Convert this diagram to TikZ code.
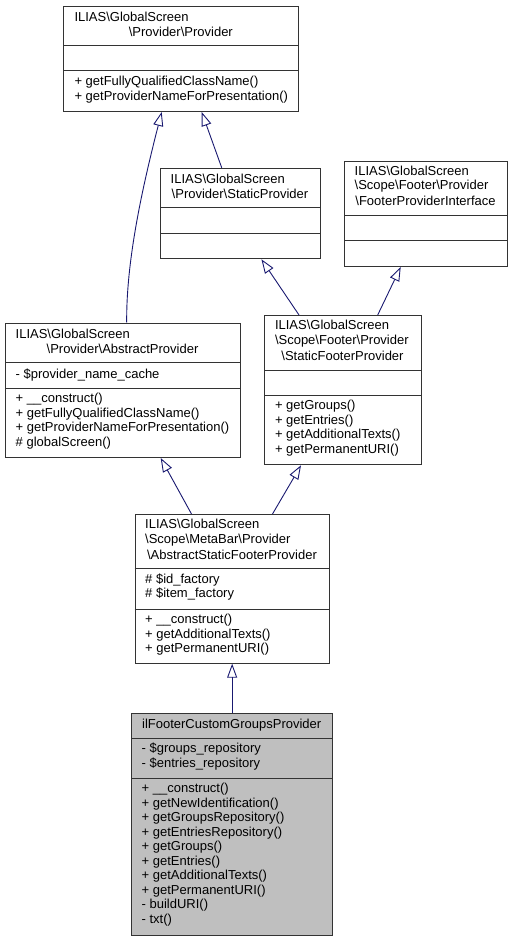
\documentclass[tikz,border=0pt]{standalone}
\usepackage{fontspec}
\setmainfont{Liberation Sans}
\usetikzlibrary{arrows.meta}
\definecolor{mblue}{RGB}{25,25,112}
\definecolor{boxgray}{RGB}{191,191,191}
\newcommand\fs{\fontsize{13}{14.5}\selectfont}
\newcommand\bs{\textbackslash}
\tikzset{
  cls/.style={draw=black!80, line width=1pt, fill=white, inner sep=0pt, anchor=north west},
  txt/.style={anchor=north west, inner sep=0pt, align=left, font=\fs, execute at begin node={\rule{0pt}{11pt}}},
  ctxt/.style={anchor=north, inner sep=0pt, align=center, font=\fs, execute at begin node={\rule{0pt}{11pt}}},
  sepline/.style={draw=black!80, line width=1pt},
  inh/.style={draw=mblue, line width=0.9pt, -{Triangle[open,length=14pt,width=10pt]}},
}
\begin{document}
\begin{tikzpicture}[x=1pt,y=-1pt]
\useasboundingbox (0,0) rectangle (512,941);

% Provider
\node[cls, minimum width=235pt, minimum height=105.3pt] (p) at (63.3,5.7) {};
\draw[sepline] (p.west |- 0,45.7) -- (p.east |- 0,45.7);
\draw[sepline] (p.west |- 0,71) -- (p.east |- 0,71);
\node[txt] (p-t1) at (74.3,10.7) {ILIAS\bs GlobalScreen};
\node[ctxt] (p-t2) at (180.8,25.2) {\bs Provider\bs Provider};
\node[txt] (p-m) at (74.3,76) {+ getFullyQualifiedClassName()\\+ getProviderNameForPresentation()};

% StaticProvider
\node[cls, minimum width=160pt, minimum height=90.6pt] (sp) at (160,167.7) {};
\draw[sepline] (sp.west |- 0,207.7) -- (sp.east |- 0,207.7);
\draw[sepline] (sp.west |- 0,233.3) -- (sp.east |- 0,233.3);
\node[txt] (sp-t1) at (170.5,172.7) {ILIAS\bs GlobalScreen};
\node[ctxt] (sp-t2) at (240,187.2) {\bs Provider\bs StaticProvider};

% FooterProviderInterface
\node[cls, minimum width=163pt, minimum height=105.3pt] (fpi) at (344,160.7) {};
\draw[sepline] (fpi.west |- 0,215.3) -- (fpi.east |- 0,215.3);
\draw[sepline] (fpi.west |- 0,240.3) -- (fpi.east |- 0,240.3);
\node[txt] (fpi-t1) at (354.5,165.7) {ILIAS\bs GlobalScreen\\\bs Scope\bs Footer\bs Provider};
\node[ctxt] (fpi-t2) at (425.5,194.7) {\bs FooterProviderInterface};

% AbstractProvider
\node[cls, minimum width=235pt, minimum height=134.3pt] (ap) at (5,322.7) {};
\draw[sepline] (ap.west |- 0,362.7) -- (ap.east |- 0,362.7);
\draw[sepline] (ap.west |- 0,388) -- (ap.east |- 0,388);
\node[txt] (ap-t1) at (15.5,327.7) {ILIAS\bs GlobalScreen};
\node[ctxt] (ap-t2) at (122.5,342.2) {\bs Provider\bs AbstractProvider};
\node[txt] (ap-a) at (15.5,367.7) {- \$provider\_name\_cache};
\node[txt] (ap-m) at (15.5,393) {+ \_\_construct()\\+ getFullyQualifiedClassName()\\+ getProviderNameForPresentation()\\\# globalScreen()};

% StaticFooterProvider
\node[cls, minimum width=156.4pt, minimum height=149.3pt] (sfp) at (264.3,315) {};
\draw[sepline] (sfp.west |- 0,370) -- (sfp.east |- 0,370);
\draw[sepline] (sfp.west |- 0,395.3) -- (sfp.east |- 0,395.3);
\node[txt] (sfp-t1) at (274.8,320) {ILIAS\bs GlobalScreen\\\bs Scope\bs Footer\bs Provider};
\node[ctxt] (sfp-t2) at (342.5,349) {\bs StaticFooterProvider};
\node[txt] (sfp-m) at (274.8,400.3) {+ getGroups()\\+ getEntries()\\+ getAdditionalTexts()\\+ getPermanentURI()};

% AbstractStaticFooterProvider
\node[cls, minimum width=194.6pt, minimum height=148.7pt] (asfp) at (134.7,514) {};
\draw[sepline] (asfp.west |- 0,568.3) -- (asfp.east |- 0,568.3);
\draw[sepline] (asfp.west |- 0,609) -- (asfp.east |- 0,609);
\node[txt] (asfp-t1) at (145,519) {ILIAS\bs GlobalScreen\\\bs Scope\bs MetaBar\bs Provider};
\node[ctxt] (asfp-t2) at (232,548) {\bs AbstractStaticFooterProvider};
\node[txt] (asfp-a) at (145,573.3) {\# \$id\_factory\\\# \$item\_factory};
\node[txt] (asfp-m) at (145,614) {+ \_\_construct()\\+ getAdditionalTexts()\\+ getPermanentURI()};

% ilFooterCustomGroupsProvider
\node[cls, fill=boxgray, minimum width=201.3pt, minimum height=222.3pt] (ilf) at (131,712.7) {};
\draw[sepline] (ilf.west |- 0,738) -- (ilf.east |- 0,738);
\draw[sepline] (ilf.west |- 0,778) -- (ilf.east |- 0,778);
\node[ctxt] (ilf-t) at (231.7,717.7) {ilFooterCustomGroupsProvider};
\node[txt] (ilf-a) at (141.5,743) {- \$groups\_repository\\- \$entries\_repository};
\node[txt] (ilf-m) at (141.5,783) {+ \_\_construct()\\+ getNewIdentification()\\+ getGroupsRepository()\\+ getEntriesRepository()\\+ getGroups()\\+ getEntries()\\+ getAdditionalTexts()\\+ getPermanentURI()\\- buildURI()\\- txt()};

% inheritance connectors
\draw[inh] ([xshift=121.7pt]ap.north west) .. controls (126,260) and (143,185) .. ([xshift=98.4pt]p.south west);
\draw[inh] ([xshift=61.7pt]sp.north west) -- ([xshift=138.4pt]p.south west);
\draw[inh] ([xshift=34.7pt]sfp.north west) -- ([xshift=101.4pt]sp.south west);
\draw[inh] ([xshift=113.4pt]sfp.north west) -- ([xshift=56.7pt]fpi.south west);
\draw[inh] ([xshift=56.8pt]asfp.north west) -- ([xshift=155.7pt]ap.south west);
\draw[inh] ([xshift=137.8pt]asfp.north west) -- ([xshift=36.7pt]sfp.south west);
\draw[inh] (ilf.north) -- (ilf.north |- asfp.south);
\end{tikzpicture}
\end{document}
